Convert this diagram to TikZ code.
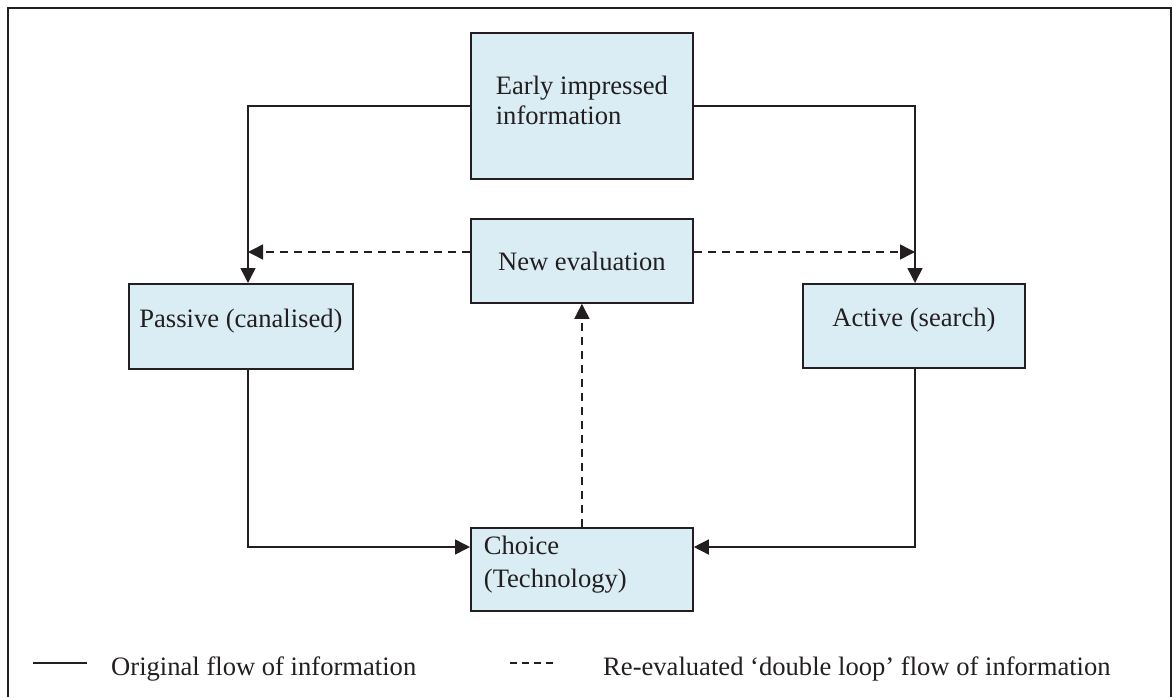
\documentclass[tikz,border=0pt]{standalone}
\usepackage{fontspec}
\setmainfont{Liberation Serif}
\usetikzlibrary{arrows.meta}
\definecolor{boxfill}{RGB}{219,237,244}
\definecolor{ink}{RGB}{35,31,32}

\begin{document}
\begin{tikzpicture}[x=1pt,y=-1pt,
  every node/.style={font=\fontsize{26.6}{31}\selectfont, text=ink},
  box/.style={draw=ink, line width=1.8pt, fill=boxfill, inner sep=0pt, minimum width=222pt},
  flow/.style={draw=ink, line width=1.5pt, -{Triangle[length=15pt,width=15pt]}},
  loopflow/.style={flow, dash pattern=on 8pt off 6pt},
  sample/.style={draw=ink, line width=1.5pt},
]
\useasboundingbox (0,0) rectangle (1174,697);

% outer frame
\draw[ink, line width=2.5pt] (8,697) -- (8,8) -- (1171,8) -- (1171,697);

% boxes (text height = first baseline below the top edge)
\node[box, anchor=north west, text height=62pt, text depth=84pt] (early) at (470,32)
  {\vtop{\baselineskip=30pt\hbox{Early impressed}\hbox{information}}};
\node[box, anchor=north west, text height=52pt, text depth=32pt] (neweval) at (470,218)
  {New evaluation};
\node[box, anchor=north west, minimum width=224pt, text height=44pt, text depth=41pt] (passive) at (128,283)
  {Passive (canalised)};
\node[box, anchor=north west, text height=43pt, text depth=41pt] (active) at (802,283)
  {Active (search)};
\node[box, anchor=north west, inner xsep=13pt, text height=27pt, text depth=56pt] (choice) at (470,527)
  {\vtop{\baselineskip=33pt\hbox to 196pt{Choice\hfil}\hbox{(Technology)}}};

% routing columns and rows
\coordinate (lcol) at (248,0);
\coordinate (rcol) at (915,0);
\coordinate (dashrow) at (0,252);
\coordinate (lowrow) at (0,547);

% original flow
\draw[flow] (early.west) -| (lcol |- passive.north);
\draw[flow] (early.east) -| (rcol |- active.north);
\draw[flow] (lcol |- passive.south) |- (choice.west |- lowrow);
\draw[flow] (rcol |- active.south) |- (choice.east |- lowrow);

% double loop flow
\draw[loopflow] (choice.north) -- (neweval.south);
\draw[loopflow] (neweval.west |- dashrow) -- (lcol |- dashrow);
\draw[loopflow] (neweval.east |- dashrow) -- (rcol |- dashrow);

% legend
\coordinate (solidA) at (33,663);
\coordinate (solidB) at (87,663);
\coordinate (dashA) at (510,663);
\coordinate (dashB) at (553,663);
\draw[sample] (solidA) -- (solidB);
\node[anchor=base west, inner sep=0pt] (legsolid) at (111,675) {Original flow of information};
\draw[sample, dash pattern=on 7pt off 5pt] (dashA) -- (dashB);
\node[anchor=base west, inner sep=0pt] (legdash) at (603,675) {Re-evaluated ‘double loop’ flow of information};
\end{tikzpicture}
\end{document}
